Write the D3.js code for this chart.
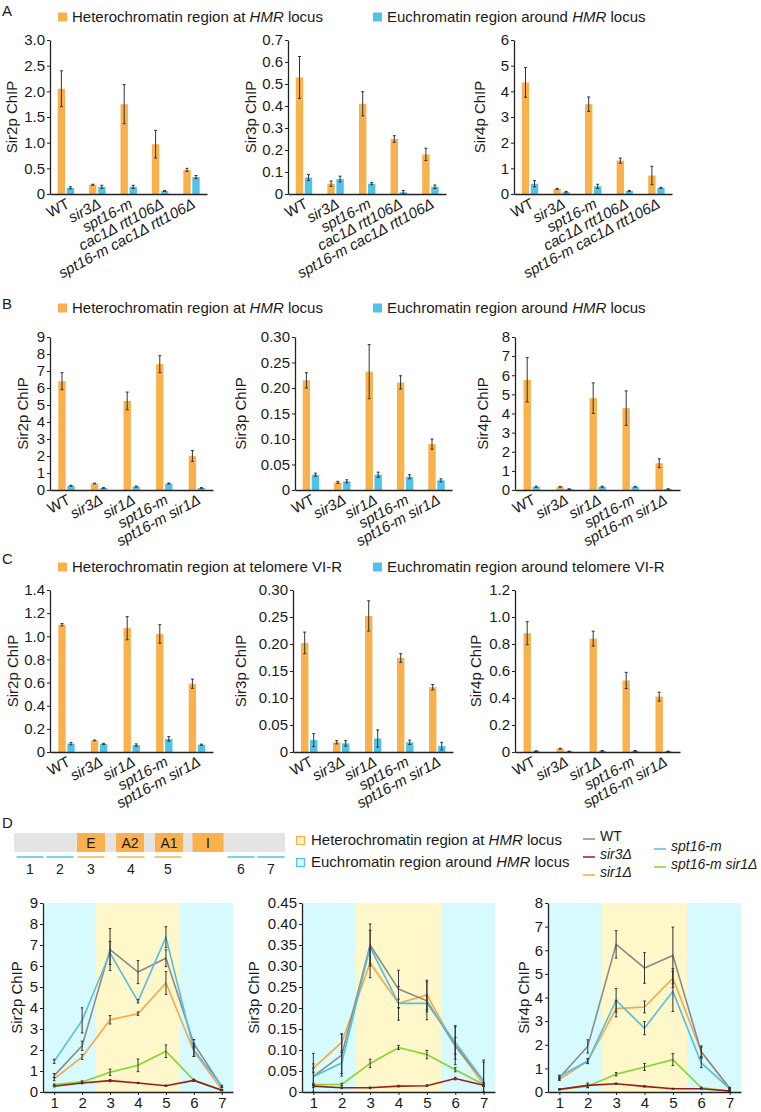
<!DOCTYPE html>
<html><head><meta charset="utf-8">
<script src="https://cdn.jsdelivr.net/npm/d3@7/dist/d3.min.js"></script>
<style>
body{margin:0;background:#fff}
svg{display:block}
text{font-family:"Liberation Sans",Arial,Helvetica,sans-serif;fill:#1a1a1a}
</style></head>
<body><svg id="chart" width="761" height="1112"></svg>
<script>
// ---------------- DATA ----------------
const catsA = ["WT","sir3Δ","spt16-m","cac1Δ rtt106Δ","spt16-m cac1Δ rtt106Δ"];
const catsBC = ["WT","sir3Δ","sir1Δ","spt16-m","spt16-m sir1Δ"];

// Panel A (HMR)
const aSir2Het = [2.05,0.18,1.75,0.97,0.47], aSir2HetErr = [0.35,0.01,0.38,0.27,0.03];
const aSir2Eu  = [0.12,0.14,0.14,0.06,0.33], aSir2EuErr  = [0.02,0.03,0.03,0.01,0.03];
const aSir3Het = [0.53,0.047,0.41,0.25,0.18], aSir3HetErr = [0.095,0.012,0.055,0.015,0.028];
const aSir3Eu  = [0.075,0.068,0.047,0.008,0.033], aSir3EuErr = [0.013,0.013,0.005,0.008,0.008];
const aSir4Het = [4.35,0.2,3.5,1.3,0.72], aSir4HetErr = [0.58,0.02,0.28,0.1,0.36];
const aSir4Eu  = [0.4,0.07,0.3,0.12,0.24], aSir4EuErr = [0.12,0.03,0.08,0.02,0.02];

// Panel B (HMR)
const bSir2Het = [6.4,0.38,5.24,7.4,2.0], bSir2HetErr = [0.5,0.02,0.52,0.5,0.32];
const bSir2Eu  = [0.25,0.12,0.2,0.38,0.12], bSir2EuErr = [0.03,0.02,0.03,0.03,0.02];
const bSir3Het = [0.215,0.015,0.232,0.211,0.09], bSir3HetErr = [0.015,0.002,0.053,0.013,0.01];
const bSir3Eu  = [0.03,0.017,0.03,0.026,0.019], bSir3EuErr = [0.003,0.003,0.005,0.004,0.003];
const bSir4Het = [5.76,0.17,4.8,4.28,1.4], bSir4HetErr = [1.16,0.02,0.8,0.9,0.23];
const bSir4Eu  = [0.17,0.05,0.17,0.17,0.05], bSir4EuErr = [0.03,0.01,0.03,0.02,0.01];

// Panel C (telomere VI-R)
const cSir2Het = [1.10,0.1,1.07,1.02,0.59], cSir2HetErr = [0.01,0.003,0.1,0.08,0.04];
const cSir2Eu  = [0.072,0.07,0.06,0.113,0.063], cSir2EuErr = [0.01,0.005,0.01,0.02,0.005];
const cSir3Het = [0.202,0.018,0.252,0.174,0.12], cSir3HetErr = [0.02,0.003,0.028,0.008,0.005];
const cSir3Eu  = [0.022,0.016,0.025,0.018,0.011], cSir3EuErr = [0.012,0.005,0.016,0.004,0.007];
const cSir4Het = [0.88,0.025,0.84,0.53,0.41], cSir4HetErr = [0.085,0.003,0.055,0.06,0.033];
const cSir4Eu  = [0.007,0.005,0.008,0.008,0.005], cSir4EuErr = [0.002,0.001,0.003,0.003,0.001];

// Panel D (positions along HMR)
const positions = [1,2,3,4,5,6,7];
const dStrains = ["WT","sir3Δ","sir1Δ","spt16-m","spt16-m sir1Δ"];
const dSir2WT = [0.78,2.2,6.78,5.71,6.37,2.3,0.25],   dSir2WTErr = [0.1,0.22,1.0,0.55,0.4,0.2,0.04];
const dSir2Sir3 = [0.27,0.43,0.54,0.43,0.3,0.55,0.08], dSir2Sir3Err = [0.03,0.04,0.05,0.03,0.03,0.05,0.02];
const dSir2Sir1 = [0.62,1.67,3.44,3.73,5.19,1.94,0.1], dSir2Sir1Err = [0.08,0.12,0.2,0.08,0.55,0.25,0.03];
const dSir2Spt = [1.46,3.41,6.62,4.32,7.37,2.0,0.27],  dSir2SptErr = [0.1,0.6,0.55,0.08,0.5,0.3,0.05];
const dSir2SptSir1 = [0.35,0.48,0.94,1.27,1.94,0.56,0.08], dSir2SptSir1Err = [0.03,0.05,0.15,0.3,0.3,0.05,0.02];

const dSir3WT = [0.037,0.088,0.35,0.245,0.217,0.11,0.026], dSir3WTErr = [0.055,0.05,0.05,0.045,0.045,0.045,0.05];
const dSir3Sir3 = [0.014,0.01,0.01,0.014,0.015,0.032,0.016], dSir3Sir3Err = [0.003,0.002,0.002,0.002,0.002,0.003,0.002];
const dSir3Sir1 = [0.057,0.118,0.307,0.211,0.231,0.11,0.018], dSir3Sir1Err = [0.01,0.02,0.035,0.01,0.035,0.02,0.005];
const dSir3Spt = [0.037,0.069,0.345,0.211,0.211,0.118,0.026], dSir3SptErr = [0.02,0.025,0.04,0.04,0.02,0.04,0.045];
const dSir3SptSir1 = [0.018,0.018,0.068,0.106,0.089,0.053,0.018], dSir3SptSir1Err = [0.003,0.003,0.01,0.005,0.01,0.005,0.003];

const dSir4WT = [0.6,1.93,6.25,5.25,5.78,1.7,0.17], dSir4WTErr = [0.08,0.28,0.58,0.65,1.2,0.25,0.03];
const dSir4Sir3 = [0.11,0.28,0.35,0.24,0.14,0.14,0.04], dSir4Sir3Err = [0.02,0.1,0.03,0.03,0.02,0.02,0.01];
const dSir4Sir1 = [0.54,1.3,3.53,3.6,4.82,1.7,0.14], dSir4Sir1Err = [0.05,0.1,0.35,0.25,0.4,0.2,0.03];
const dSir4Spt = [0.66,1.31,3.88,2.7,4.26,1.23,0.14], dSir4SptErr = [0.05,0.1,0.5,0.28,0.85,0.2,0.03];
const dSir4SptSir1 = [0.11,0.24,0.75,1.06,1.37,0.18,0.04], dSir4SptSir1Err = [0.02,0.05,0.07,0.15,0.25,0.03,0.01];

// HMR map
const mapElements = ["E","A2","A1","I"];
const mapRegions = ["1","2","3","4","5","6","7"];

// tick values
const ticksA2 = [0,0.5,1,1.5,2,2.5,3], ticksA3 = [0,0.1,0.2,0.3,0.4,0.5,0.6,0.7], ticksA4 = [0,1,2,3,4,5,6];
const ticksB2 = [0,1,2,3,4,5,6,7,8,9], ticksB3 = [0,0.05,0.1,0.15,0.2,0.25,0.3], ticksB4 = [0,1,2,3,4,5,6,7,8];
const ticksC2 = [0,0.2,0.4,0.6,0.8,1.0,1.2,1.4], ticksC3 = [0,0.05,0.1,0.15,0.2,0.25,0.3], ticksC4 = [0,0.2,0.4,0.6,0.8,1.0,1.2];
const ticksD2 = [0,1,2,3,4,5,6,7,8,9], ticksD3 = [0,0.05,0.1,0.15,0.2,0.25,0.3,0.35,0.4,0.45], ticksD4 = [0,1,2,3,4,5,6,7,8];

// ---------------- STYLE ----------------
const ORANGE = "#f8b14d", BLUE = "#4fc3ea", AXIS = "#222";
const lineColors = {"WT":"#8c8c8c","sir3Δ":"#9e1b1b","sir1Δ":"#f5a84a","spt16-m":"#55bde0","spt16-m sir1Δ":"#84d62a"};
const FS = 15;

const svg = d3.select("#chart");

function fmtFor(dec){ return d => d === 0 ? "0" : d3.format("." + dec + "f")(d); }

function styleAxis(g){
  g.selectAll("path.domain").attr("stroke", AXIS).attr("stroke-width", 1.3);
  g.selectAll(".tick line").attr("stroke", AXIS).attr("stroke-width", 1);
  g.selectAll(".tick text").attr("font-size", FS).attr("fill", "#1a1a1a")
    .attr("font-family", '"Liberation Sans",Arial,sans-serif');
}

function errBar(g, cx, y, v, e, cap){
  g.append("line").attr("x1",cx).attr("x2",cx).attr("y1",y(v+e)).attr("y2",y(Math.max(0,v-e)))
    .attr("stroke","#333").attr("stroke-width",1);
  [v+e, Math.max(0,v-e)].forEach(t => g.append("line").attr("x1",cx-cap).attr("x2",cx+cap)
    .attr("y1",y(t)).attr("y2",y(t)).attr("stroke","#333").attr("stroke-width",1));
}

function barPlot(c){
  const g = svg.append("g");
  const x = d3.scaleBand().domain(c.cats).range([c.x0, c.x1]);
  const y = d3.scaleLinear().domain([0, c.ticks[c.ticks.length-1]]).range([c.yBase, c.yTop]);
  const bw = 7.4;
  c.cats.forEach((cat,i) => {
    const cx = x(cat) + x.bandwidth()/2;
    g.append("rect").attr("x", cx-8).attr("width", bw).attr("y", y(c.het[i])).attr("height", y(0)-y(c.het[i])).attr("fill", ORANGE);
    g.append("rect").attr("x", cx+1).attr("width", bw).attr("y", y(c.eu[i])).attr("height", y(0)-y(c.eu[i])).attr("fill", BLUE);
    errBar(g, cx-8+bw/2, y, c.het[i], c.hetErr[i], 1.5);
    errBar(g, cx+1+bw/2, y, c.eu[i], c.euErr[i], 1.5);
  });
  const ya = g.append("g").attr("transform", `translate(${c.x0},0)`)
    .call(d3.axisLeft(y).tickValues(c.ticks).tickFormat(fmtFor(c.dec)).tickSize(3).tickSizeOuter(0).tickPadding(2));
  styleAxis(ya);
  const xa = g.append("g").attr("transform", `translate(0,${c.yBase})`)
    .call(d3.axisBottom(x).tickSize(0).tickSizeOuter(0).tickFormat(""));
  styleAxis(xa);
  g.selectAll("text.xl").data(c.cats).join("text").attr("class","xl")
    .attr("transform", d => `translate(${x(d)+x.bandwidth()/2+5},${c.yBase+13}) rotate(-28)`)
    .attr("text-anchor","end").attr("font-size", FS)
    .attr("font-style", d => d === "WT" ? "normal" : "italic").text(d => d);
  g.append("text").attr("transform", `translate(${c.labelX},${(c.yTop+c.yBase)/2}) rotate(-90)`)
    .attr("text-anchor","middle").attr("dominant-baseline","middle").attr("font-size", FS).text(c.label);
}

function legendBar(yc, hetText, euText){
  const g = svg.append("g");
  g.append("rect").attr("x",58).attr("y",yc-4.5).attr("width",9).attr("height",9).attr("fill",ORANGE);
  g.append("rect").attr("x",373).attr("y",yc-4.5).attr("width",9).attr("height",9).attr("fill",BLUE);
  const add = (x, parts) => {
    const t = g.append("text").attr("x",x).attr("y",yc+5).attr("font-size",FS);
    parts.forEach(p => t.append("tspan").attr("font-style", p[1] ? "italic" : "normal").text(p[0]));
  };
  add(72, hetText); add(387, euText);
}
function panelLetter(l, y){ svg.append("text").attr("x",2).attr("y",y).attr("font-size",FS).text(l); }

// ---------------- PANEL A ----------------
panelLetter("A", 16);
legendBar(17, [["Heterochromatin region at ",0],["HMR",1],[" locus",0]], [["Euchromatin region around ",0],["HMR",1],[" locus",0]]);
const rowA = {yTop:40, yBase:194, cats:catsA};
barPlot({...rowA, x0:50, x1:207, ticks:ticksA2, dec:1, het:aSir2Het, hetErr:aSir2HetErr, eu:aSir2Eu, euErr:aSir2EuErr, label:"Sir2p ChIP", labelX:13});
barPlot({...rowA, x0:288, x1:446, ticks:ticksA3, dec:1, het:aSir3Het, hetErr:aSir3HetErr, eu:aSir3Eu, euErr:aSir3EuErr, label:"Sir3p ChIP", labelX:252});
barPlot({...rowA, x0:514, x1:672, ticks:ticksA4, dec:0, het:aSir4Het, hetErr:aSir4HetErr, eu:aSir4Eu, euErr:aSir4EuErr, label:"Sir4p ChIP", labelX:481});

// ---------------- PANEL B ----------------
panelLetter("B", 309);
legendBar(308, [["Heterochromatin region at ",0],["HMR",1],[" locus",0]], [["Euchromatin region around ",0],["HMR",1],[" locus",0]]);
const rowB = {yTop:337, yBase:490, cats:catsBC};
barPlot({...rowB, x0:50, x1:213, ticks:ticksB2, dec:0, het:bSir2Het, hetErr:bSir2HetErr, eu:bSir2Eu, euErr:bSir2EuErr, label:"Sir2p ChIP", labelX:24});
barPlot({...rowB, x0:295, x1:452, ticks:ticksB3, dec:2, het:bSir3Het, hetErr:bSir3HetErr, eu:bSir3Eu, euErr:bSir3EuErr, label:"Sir3p ChIP", labelX:242});
barPlot({...rowB, x0:515, x1:680, ticks:ticksB4, dec:0, het:bSir4Het, hetErr:bSir4HetErr, eu:bSir4Eu, euErr:bSir4EuErr, label:"Sir4p ChIP", labelX:484});

// ---------------- PANEL C ----------------
panelLetter("C", 564);
legendBar(567, [["Heterochromatin region at telomere VI-R",0]], [["Euchromatin region around telomere VI-R",0]]);
const rowC = {yTop:590, yBase:752, cats:catsBC};
barPlot({...rowC, x0:50, x1:213, ticks:ticksC2, dec:1, het:cSir2Het, hetErr:cSir2HetErr, eu:cSir2Eu, euErr:cSir2EuErr, label:"Sir2p ChIP", labelX:14});
barPlot({...rowC, x0:293, x1:453, ticks:ticksC3, dec:2, het:cSir3Het, hetErr:cSir3HetErr, eu:cSir3Eu, euErr:cSir3EuErr, label:"Sir3p ChIP", labelX:242});
barPlot({...rowC, x0:515, x1:680, ticks:ticksC4, dec:1, het:cSir4Het, hetErr:cSir4HetErr, eu:cSir4Eu, euErr:cSir4EuErr, label:"Sir4p ChIP", labelX:477});

// ---------------- PANEL D ----------------
panelLetter("D", 828);
(function hmrMap(){
  const g = svg.append("g");
  g.append("rect").attr("x",14).attr("y",833).attr("width",271).attr("height",19).attr("fill","#e4e4e4");
  const boxX = d3.scalePoint().domain(mapElements).range([91, 208]);
  mapElements.forEach(e => {
    const w = e === "I" ? 31 : 28;
    g.append("rect").attr("x", boxX(e)-w/2).attr("y",833).attr("width",w).attr("height",19).attr("fill",ORANGE);
    g.append("text").attr("x", boxX(e)).attr("y",848).attr("text-anchor","middle").attr("font-size",14).text(e);
  });
  const regX = d3.scaleOrdinal().domain(mapRegions).range([30,60,91,131,168,241,271]);
  mapRegions.forEach(r => {
    const het = ["3","4","5"].includes(r);
    g.append("line").attr("x1", regX(r)-13.5).attr("x2", regX(r)+13.5).attr("y1",857).attr("y2",857)
      .attr("stroke", het ? ORANGE : BLUE).attr("stroke-width",1.5);
    g.append("text").attr("x", regX(r)).attr("y",874).attr("text-anchor","middle").attr("font-size",14).text(r);
  });
  g.append("rect").attr("x",296.5).attr("y",836.5).attr("width",8).attr("height",8).attr("fill","#fdf3c4").attr("stroke",ORANGE).attr("stroke-width",1.2);
  g.append("rect").attr("x",296.5).attr("y",858.5).attr("width",8).attr("height",8).attr("fill","#d8f8fd").attr("stroke",BLUE).attr("stroke-width",1.2);
  const t1 = g.append("text").attr("x",311).attr("y",845).attr("font-size",FS);
  t1.append("tspan").text("Heterochromatin region at "); t1.append("tspan").attr("font-style","italic").text("HMR"); t1.append("tspan").text(" locus");
  const t2 = g.append("text").attr("x",311).attr("y",867).attr("font-size",FS);
  t2.append("tspan").text("Euchromatin region around "); t2.append("tspan").attr("font-style","italic").text("HMR"); t2.append("tspan").text(" locus");
  const legPos = {"WT":[583,836],"sir3Δ":[583,854],"sir1Δ":[583,872],"spt16-m":[654,846],"spt16-m sir1Δ":[654,864]};
  dStrains.forEach(s => {
    const [lx, ly] = legPos[s];
    g.append("line").attr("x1",lx).attr("x2",lx+12).attr("y1",ly+3).attr("y2",ly+3).attr("stroke",lineColors[s]).attr("stroke-width",1.5);
    g.append("text").attr("x",lx+17).attr("y",ly+5).attr("font-size",14)
      .attr("font-style", s === "WT" ? "normal" : "italic").text(s);
  });
})();

function linePlot(c){
  const g = svg.append("g");
  const x = d3.scaleLinear().domain([0.6, 7.4]).range([c.x0, c.x1]);
  const y = d3.scaleLinear().domain([0, c.ticks[c.ticks.length-1]]).range([c.yBase, c.yTop]);
  g.append("rect").attr("x",c.x0).attr("y",c.yTop).attr("width",c.x1-c.x0).attr("height",c.yBase-c.yTop).attr("fill","#d6fafd");
  g.append("rect").attr("x",x(2.5)).attr("y",c.yTop).attr("width",x(5.5)-x(2.5)).attr("height",c.yBase-c.yTop).attr("fill","#fdf7ca");
  const line = d3.line().x((d,i) => x(positions[i])).y(d => y(d));
  c.series.forEach(s => {
    g.append("path").datum(s.v).attr("d", line).attr("fill","none").attr("stroke", lineColors[s.name]).attr("stroke-width",1.6);
  });
  c.series.forEach(s => {
    s.v.forEach((v,i) => errBar(g, x(positions[i]), y, v, s.e[i], 1.3));
  });
  const ya = g.append("g").attr("transform", `translate(${c.x0},0)`)
    .call(d3.axisLeft(y).tickValues(c.ticks).tickFormat(fmtFor(c.dec)).tickSize(3).tickSizeOuter(0).tickPadding(2));
  styleAxis(ya);
  const xa = g.append("g").attr("transform", `translate(0,${c.yBase})`)
    .call(d3.axisBottom(x).tickValues(positions).tickFormat(d3.format("d")).tickSize(3).tickSizeOuter(0).tickPadding(2));
  styleAxis(xa);
  g.append("text").attr("transform", `translate(${c.labelX},${(c.yTop+c.yBase)/2}) rotate(-90)`)
    .attr("text-anchor","middle").attr("dominant-baseline","middle").attr("font-size", FS).text(c.label);
}
const rowD = {yTop:903, yBase:1092};
linePlot({...rowD, x0:43, x1:233, ticks:ticksD2, dec:0, label:"Sir2p ChIP", labelX:18, series:[
  {name:"sir1Δ", v:dSir2Sir1, e:dSir2Sir1Err},{name:"spt16-m sir1Δ", v:dSir2SptSir1, e:dSir2SptSir1Err},
  {name:"sir3Δ", v:dSir2Sir3, e:dSir2Sir3Err},{name:"WT", v:dSir2WT, e:dSir2WTErr},{name:"spt16-m", v:dSir2Spt, e:dSir2SptErr}]});
linePlot({...rowD, x0:302, x1:495, ticks:ticksD3, dec:2, label:"Sir3p ChIP", labelX:255, series:[
  {name:"sir1Δ", v:dSir3Sir1, e:dSir3Sir1Err},{name:"spt16-m sir1Δ", v:dSir3SptSir1, e:dSir3SptSir1Err},
  {name:"sir3Δ", v:dSir3Sir3, e:dSir3Sir3Err},{name:"WT", v:dSir3WT, e:dSir3WTErr},{name:"spt16-m", v:dSir3Spt, e:dSir3SptErr}]});
linePlot({...rowD, x0:548, x1:741, ticks:ticksD4, dec:0, label:"Sir4p ChIP", labelX:525, series:[
  {name:"sir1Δ", v:dSir4Sir1, e:dSir4Sir1Err},{name:"spt16-m sir1Δ", v:dSir4SptSir1, e:dSir4SptSir1Err},
  {name:"sir3Δ", v:dSir4Sir3, e:dSir4Sir3Err},{name:"WT", v:dSir4WT, e:dSir4WTErr},{name:"spt16-m", v:dSir4Spt, e:dSir4SptErr}]});
</script>
</body></html>
